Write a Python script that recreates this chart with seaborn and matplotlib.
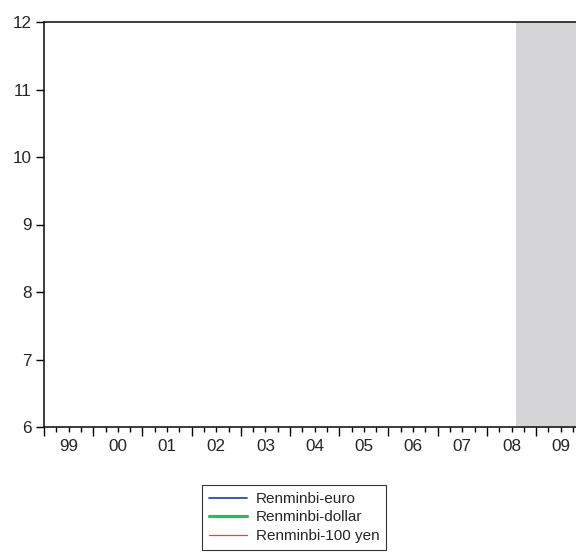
import matplotlib
matplotlib.use("Agg")
import matplotlib.pyplot as plt
import seaborn as sns
import numpy as np

# time axis (decimal years), series are empty in the visible window
x_start = 1999.0
x_end = 2009.81
years = list(range(1999, 2010))
year_labels = ["99", "00", "01", "02", "03", "04", "05", "06", "07", "08", "09"]
y_ticks = [6, 7, 8, 9, 10, 11, 12]

# recession / crisis shading
shade_start = 2008.59
shade_end = 2009.81

series_names = ["Renminbi-euro", "Renminbi-dollar", "Renminbi-100 yen"]
series_dates = [[], [], []]
series_values = [[], [], []]
series_colors = ["#2a4f9e", "#2cb865", "#e8403f"]
series_widths = [1.3, 2.3, 0.9]

sns.set_style("white")
plt.rcParams['font.family'] = ['Liberation Sans', 'DejaVu Sans']

fig = plt.figure(figsize=(5.76, 5.55), dpi=100)
ax = fig.add_axes([44 / 576, 1 - 427 / 555, 1 - 44 / 576, (427 - 22) / 555])

ax.axvspan(shade_start, shade_end, color="#d6d6d8", lw=0, zorder=0)

for name, d, v, c, w in zip(series_names, series_dates, series_values, series_colors, series_widths):
    ax.plot(d, v, color=c, lw=w, label=name)

ax.set_xlim(x_start, x_end)
ax.set_ylim(6, 12)

# major ticks at year boundaries, minor ticks at quarters, labels mid-year
ax.set_xticks(years)
ax.set_xticklabels([])
minor_pos = []
minor_lab = []
for y, lab in zip(years, year_labels):
    for q, t in zip([0.25, 0.5, 0.75], ["", lab, ""]):
        if y + q < x_end:
            minor_pos.append(y + q)
            minor_lab.append(t)
ax.set_xticks(minor_pos, minor=True)
ax.set_xticklabels(minor_lab, minor=True)

ax.set_yticks(y_ticks)

ax.tick_params(axis="x", which="major", direction="out", length=6.5, width=1, color="black", bottom=True)
ax.tick_params(axis="x", which="minor", direction="out", length=3.5, width=1, color="black",
               bottom=True, labelsize=12.3, pad=5)
ax.tick_params(axis="y", direction="out", length=6, width=1, color="black", left=True,
               labelsize=12.3, pad=3)

for s in ["left", "top", "bottom"]:
    ax.spines[s].set_visible(True)
    ax.spines[s].set_color("#1a1a1a")
    ax.spines[s].set_linewidth(1.2)
ax.spines["right"].set_visible(False)

leg = fig.legend(loc="upper center", bbox_to_anchor=(0.511, 1 - 485 / 555),
                 frameon=True, fancybox=False, fontsize=11, handlelength=2.5,
                 handletextpad=0.55, labelspacing=0.3, borderpad=0.45, borderaxespad=0)
leg.get_frame().set_edgecolor("black")
leg.get_frame().set_linewidth(0.8)

fig.savefig("out.png", dpi=100)
